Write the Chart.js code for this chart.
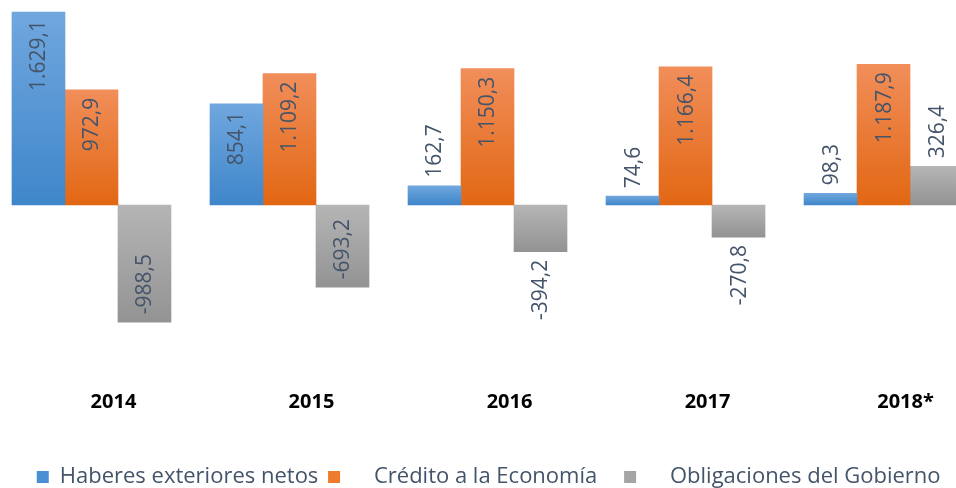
<!DOCTYPE html>
<html>
<head>
<meta charset="utf-8">
<script src="https://cdn.jsdelivr.net/npm/chart.js@4"></script>
<style>
  body { margin: 0; background: #fff; }
  #wrap { width: 956px; height: 488px; position: relative; }
</style>
</head>
<body>
<div id="wrap"><canvas id="agregados-chart"></canvas></div>
<script>
const years = ['2014', '2015', '2016', '2017', '2018*'];
const haberesExteriores = [1629.1, 854.1, 162.7, 74.6, 98.3];
const creditoEconomia = [972.9, 1109.2, 1150.3, 1166.4, 1187.9];
const obligacionesGobierno = [-988.5, -693.2, -394.2, -270.8, 326.4];
const seriesNames = ['Haberes exteriores netos', 'Crédito a la Economía', 'Obligaciones del Gobierno'];

// top / bottom colour of each bar's gradient, plus flat colour for the legend
const palette = [
  { top: '#70a7de', bottom: '#3f86ca', flat: '#4a8fd3' },
  { top: '#f18e5a', bottom: '#e26713', flat: '#ee7b2c' },
  { top: '#b5b5b5', bottom: '#939393', flat: '#a5a5a5' }
];

const labelColor = '#44546a';

// 1629.1 -> "1.629,1"
function formatValue(v) {
  const parts = Math.abs(v).toFixed(1).split('.');
  const whole = parts[0].replace(/\B(?=(\d{3})+(?!\d))/g, '.');
  return (v < 0 ? '-' : '') + whole + ',' + parts[1];
}

function gradientFill(colors) {
  return (context) => {
    const chart = context.chart;
    const yScale = chart.scales.y;
    if (context.type !== 'data' || !chart.chartArea || !yScale) return colors.flat;
    const a = yScale.getPixelForValue(context.raw.y);
    const b = yScale.getPixelForValue(0);
    const g = chart.ctx.createLinearGradient(0, Math.min(a, b), 0, Math.max(a, b));
    g.addColorStop(0, colors.top);
    g.addColorStop(1, colors.bottom);
    return g;
  };
}

// rotated value labels: inside the bar end when they fit, otherwise just past it
const barValueLabels = {
  id: 'barValueLabels',
  afterDatasetsDraw(chart) {
    const ctx = chart.ctx;
    const pad = 8;
    ctx.save();
    ctx.font = '21px "Open Sans", sans-serif';
    ctx.fillStyle = labelColor;
    ctx.textBaseline = 'middle';
    chart.data.datasets.forEach((ds, di) => {
      const meta = chart.getDatasetMeta(di);
      meta.data.forEach((bar, i) => {
        const value = ds.data[i].y;
        const text = formatValue(value);
        const w = ctx.measureText(text).width;
        const h = Math.abs(bar.base - bar.y);
        const inside = w + pad * 2 <= h;
        let y, align;
        if (value >= 0) {
          y = inside ? bar.y + pad : bar.y - pad;
          align = inside ? 'right' : 'left';
        } else {
          y = inside ? bar.y - pad : bar.y + pad;
          align = inside ? 'left' : 'right';
        }
        ctx.save();
        ctx.translate(bar.x, y);
        ctx.rotate(-Math.PI / 2);
        ctx.textAlign = align;
        ctx.fillText(text, 0, 1);
        ctx.restore();
      });
    });
    ctx.restore();
  }
};

const seriesValues = [haberesExteriores, creditoEconomia, obligacionesGobierno];
// the legend entries are spaced out with blanks around the text
const legendText = [
  seriesNames[0] + ' ',
  '    ' + seriesNames[1] + '    ',
  '    ' + seriesNames[2] + '  '
];

const ctx = document.getElementById('agregados-chart').getContext('2d');
const chart = new Chart(ctx, {
  type: 'bar',
  data: {
    datasets: seriesValues.map((vals, k) => ({
      label: seriesNames[k],
      data: vals.map((v, i) => ({ x: i, y: v })),
      backgroundColor: gradientFill(palette[k]),
      borderWidth: 0,
      barThickness: 53
    }))
  },
  options: {
    responsive: true,
    maintainAspectRatio: false,
    animation: false,
    layout: { padding: { top: 0, left: 0, right: 0, bottom: -10 } },
    scales: {
      x: {
        type: 'linear',
        offset: false,
        min: -0.462,
        max: 4.366,
        grid: { display: false, drawTicks: false },
        border: { display: false },
        afterBuildTicks: (axis) => { axis.ticks = years.map((_, i) => ({ value: i })); },
        afterFit: (axis) => { axis.height = 72; },
        ticks: {
          padding: 0,
          labelOffset: 22,
          color: '#000',
          font: { family: '"Open Sans", sans-serif', size: 20, weight: 'bold' },
          callback: (value) => years[value]
        }
      },
      y: {
        display: false,
        min: -1561,
        max: 1730
      }
    },
    plugins: {
      tooltip: { enabled: false },
      legend: {
        position: 'bottom',
        align: 'end',
        labels: {
          boxWidth: 12,
          boxHeight: 12,
          padding: 4,
          color: labelColor,
          font: { family: '"Open Sans", sans-serif', size: 22 },
          generateLabels: (c) => c.data.datasets.map((ds, k) => ({
            text: legendText[k],
            fillStyle: palette[k].flat,
            strokeStyle: palette[k].flat,
            lineWidth: 0,
            hidden: false,
            datasetIndex: k,
            fontColor: labelColor
          }))
        }
      }
    }
  },
  plugins: [barValueLabels]
});
</script>
</body>
</html>
